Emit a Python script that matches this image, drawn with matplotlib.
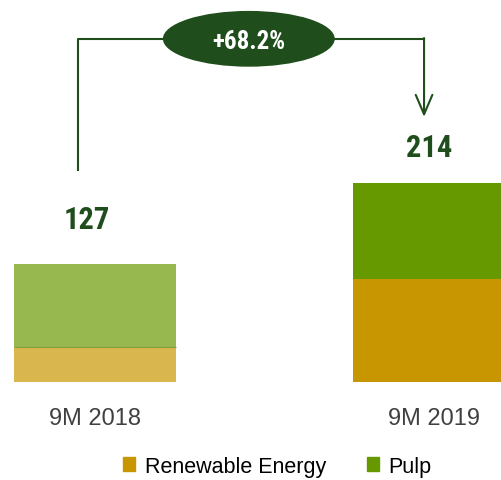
import matplotlib
matplotlib.use("Agg")
import matplotlib.pyplot as plt
from matplotlib.patches import Ellipse, Patch

categories = ["9M 2018", "9M 2019"]
renewable = [38, 111]
pulp = [89, 103]
totals = [127, 214]
growth_label = "+68.2%"

re_colors = ["#D9B74E", "#C89600"]
pulp_colors = ["#96B84E", "#669900"]
dark_green = "#1F4E1C"

fig = plt.figure(figsize=(5.01, 4.81), dpi=100)
ax = fig.add_axes([0, 0, 1, 1])
ax.set_xlim(-0.280, 1.198)
ax.set_ylim(-105.4, 411.8)
ax.axis("off")

x = [0, 1]
w = 0.478
ax.bar(x, renewable, width=w, color=re_colors, linewidth=0)
ax.bar(x, pulp, width=w, bottom=renewable, color=pulp_colors, linewidth=0)
# thin line between the faded segments
ax.plot([x[0] - w / 2, x[0] + w / 2], [renewable[0], renewable[0]], color="#7FA23A",
        lw=0.8, solid_capstyle="butt")

narrow = ["Roboto Condensed", "DejaVu Sans"]
arial = ["Liberation Sans", "DejaVu Sans"]
label_offsets = [32, 23]
label_x = [-0.025, -0.015]
for i in range(2):
    ax.text(x[i] + label_x[i], totals[i] + label_offsets[i], str(totals[i]),
            ha="center", va="bottom", fontsize=22, fontweight="bold",
            color=dark_green, family=narrow)
    ax.text(x[i], -39, categories[i], ha="center", va="center", fontsize=17,
            color="#404040", family=arial)

# growth bracket
top_y = 369
lx, rx = -0.050, 0.971
ax.plot([lx, lx, 0.454], [227, top_y, top_y], color=dark_green, lw=1.5, solid_capstyle="butt")
ax.plot([0.454, rx], [top_y, top_y], color=dark_green, lw=1.5)
ax.annotate("", xy=(rx, 285), xytext=(rx, top_y + 0.8),
            arrowprops=dict(arrowstyle="->,head_length=1.4,head_width=0.6",
                            color=dark_green, lw=1.5, shrinkA=0, shrinkB=0))
ax.add_patch(Ellipse((0.454, top_y), 0.507, 60, facecolor=dark_green,
                     edgecolor="none", zorder=3))
ax.text(0.454, top_y - 2, growth_label, ha="center", va="center", fontsize=18,
        fontweight="bold", color="white", family=narrow, zorder=4)

handles = [Patch(color=re_colors[1], label="Renewable Energy"),
           Patch(color=pulp_colors[1], label="Pulp")]
fig.legend(handles=handles, loc="center", bbox_to_anchor=(0.554, 0.029), ncol=2,
           frameon=False, handlelength=0.55, handleheight=0.65, handletextpad=0.45,
           columnspacing=1.9, prop={"family": arial, "size": 15.5})

fig.savefig("out.png", dpi=100)
